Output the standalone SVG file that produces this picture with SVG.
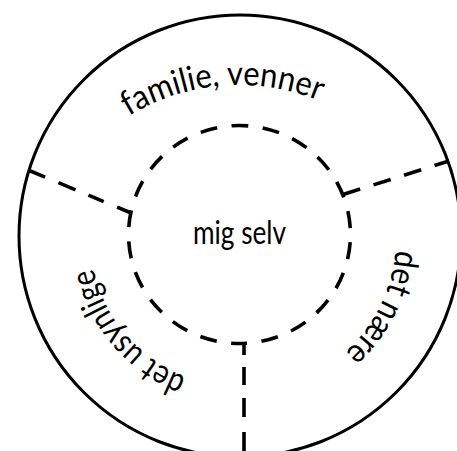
<svg xmlns="http://www.w3.org/2000/svg" width="457" height="451" viewBox="0 0 457 451">
  <style>
    .solid { fill: none; stroke: #000; stroke-width: 3; }
    .dash { fill: none; stroke: #000; stroke-width: 3.6; stroke-linecap: butt; }
    .lbl { font-family: Lato, "Liberation Sans", sans-serif; fill: #000; }
  </style>
  <defs>
    <path id="arcTop" d="M128.8,116.1 A211,211 0 0 1 344.5,113.3"/>
    <path id="arcRight" d="M395.5,250 A156,156 0 0 1 318,372.1"/>
    <path id="arcLeft" d="M186.2,377 A150,150 0 0 1 99,185.7"/>
  </defs>
  <rect width="457" height="451" fill="#fff"/>
  <g id="outer-circle">
    <circle class="solid" cx="240" cy="236" r="221"/>
  </g>
  <g id="inner-circle">
    <path class="dash" d="M239.5,343.5 A111,109 0 0 1 239.5,125.5 A111,109 0 0 1 239.5,343.5" stroke-dasharray="17 14.416" stroke-dashoffset="8.5"/>
    <text class="lbl" x="239.5" y="244" font-size="33" text-anchor="middle" textLength="93" lengthAdjust="spacingAndGlyphs">mig selv</text>
  </g>
  <g id="connectors">
    <line class="dash" x1="244" y1="343.5" x2="244" y2="460" stroke-dasharray="11.5 12 18 13 19 15 40"/>
    <line class="dash" x1="130" y1="212.5" x2="28" y2="170" stroke-dasharray="14 14.5 16.5 14 18.5 14.5 20"/>
    <line class="dash" x1="343" y1="194.5" x2="449" y2="161" stroke-dasharray="18 14 18 14 18 14 18"/>
  </g>
  <g id="label-familie">
    <text class="lbl" font-size="34"><textPath href="#arcTop" textLength="198" lengthAdjust="spacingAndGlyphs">familie, venner</textPath></text>
  </g>
  <g id="label-naere">
    <text class="lbl" font-size="34"><textPath href="#arcRight" textLength="117" lengthAdjust="spacingAndGlyphs">det nære</textPath></text>
  </g>
  <g id="label-usynlige">
    <text class="lbl" font-size="34"><textPath href="#arcLeft" textLength="149" lengthAdjust="spacingAndGlyphs">det usynlige</textPath></text>
  </g>
</svg>
